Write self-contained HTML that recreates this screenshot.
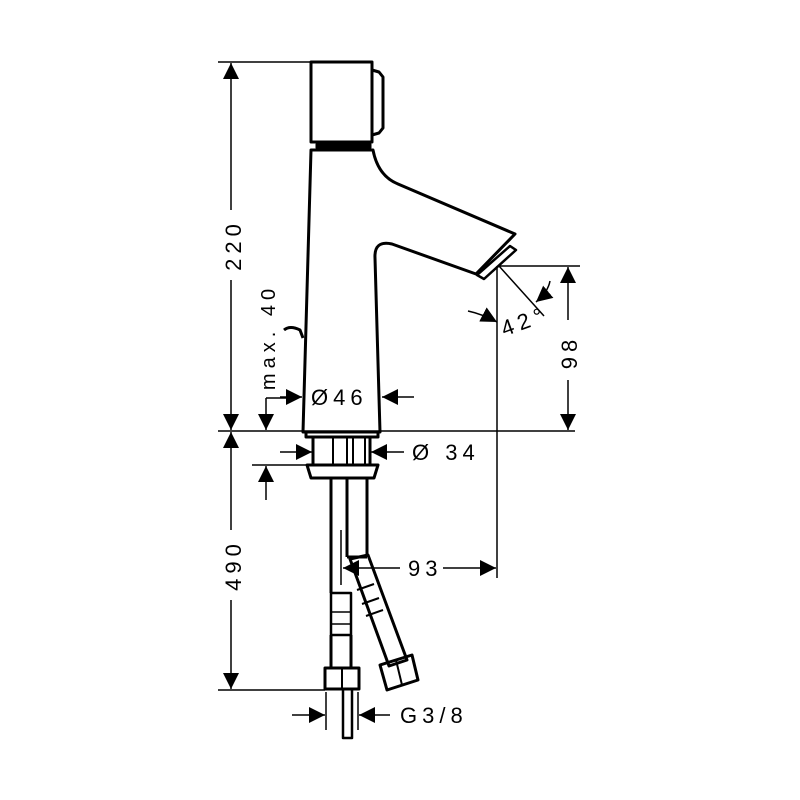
<!DOCTYPE html>
<html><head><style>
html,body{margin:0;padding:0;background:#fff;}
svg{display:block}
text{font-family:"Liberation Sans",sans-serif;font-size:22px;fill:#000;letter-spacing:5px}
</style></head><body>
<svg width="800" height="800" viewBox="0 0 800 800" xmlns="http://www.w3.org/2000/svg">
<defs>
<marker id="a" viewBox="0 0 10 10" refX="10" refY="5" markerWidth="16" markerHeight="16" markerUnits="userSpaceOnUse" orient="auto"><path d="M0,0 L10,5 L0,10 z" fill="#000"/></marker>
</defs>
<g fill="none" stroke="#000" stroke-width="3" stroke-linejoin="round">
<rect x="311" y="62" width="61" height="80"/>
<path d="M372,70 L379,72 L383,77 L383,128 L379,133 L372,135"/>
<rect x="316" y="144" width="55" height="4" fill="#000" stroke-width="1"/>
<path d="M311,150 L303,432 L380,432 L375,258 Q374,240 392,244 L476,274 L515,234 L398,184 Q378,176 373,150 Z"/>
<path d="M477,275 L510,246 L516,250 L484,279 Z" stroke-width="2.5"/>
<path d="M306,432 L306,437 L378,437 L378,432"/>
<path d="M284,330 Q290,325 300,330 L303,338" stroke-width="3"/>
<rect x="313" y="437" width="57" height="28"/>
<path d="M333,437 V465 M347,437 V465 M353,437 V465 M365,437 V465" stroke-width="2"/>
<path d="M307,465 L378,465 L374,478 L311,478 Z" stroke-width="3"/>
<path d="M331,478 V593 M347,478 V557 M367,478 V557 M347,557 H367"/>
<rect x="331" y="593" width="20" height="42" stroke-width="2.5"/>
<path d="M331,612 H351 M331,624 H351" stroke-width="1.5"/>
<path d="M331,635 V668 M351,635 V668"/>
<rect x="325" y="668" width="34" height="21"/>
<path d="M342,668 V689" stroke-width="2"/>
<path d="M343,689 V738 H352 V689" stroke-width="2.5"/>
<path d="M350,559 L368,555 L407,660 L389,666 Z"/>
<path d="M357,590 L374,584 M362,604 L379,598 M366,616 L383,610" stroke-width="2"/>
<path d="M380,665 L412,655 L418,680 L387,690 Z"/>
<path d="M396,660 L402,685" stroke-width="2"/>
</g>
<g stroke="#000" stroke-width="1.5" fill="none">
<line x1="218" y1="62" x2="311" y2="62"/>
<line x1="218" y1="431" x2="575" y2="431"/>
<line x1="218" y1="690" x2="325" y2="690"/>
<line x1="231" y1="210" x2="231" y2="63" marker-end="url(#a)"/>
<line x1="231" y1="280" x2="231" y2="430" marker-end="url(#a)"/>
<line x1="231" y1="530" x2="231" y2="432" marker-end="url(#a)"/>
<line x1="231" y1="600" x2="231" y2="689" marker-end="url(#a)"/>
<line x1="266" y1="398" x2="266" y2="430" marker-end="url(#a)"/>
<line x1="266" y1="398" x2="290" y2="398"/>
<line x1="252" y1="465" x2="310" y2="465"/>
<line x1="266" y1="500" x2="266" y2="466" marker-end="url(#a)"/>
<line x1="280" y1="397" x2="302" y2="397" marker-end="url(#a)"/>
<line x1="414" y1="397" x2="382" y2="397" marker-end="url(#a)"/>
<line x1="280" y1="452" x2="312" y2="452" marker-end="url(#a)"/>
<line x1="404" y1="452" x2="371" y2="452" marker-end="url(#a)"/>
<line x1="500" y1="266" x2="580" y2="266"/>
<line x1="497" y1="266" x2="497" y2="578"/>
<line x1="568" y1="320" x2="568" y2="267" marker-end="url(#a)"/>
<line x1="568" y1="380" x2="568" y2="430" marker-end="url(#a)"/>
<line x1="499" y1="266" x2="544" y2="316"/>
<path d="M550,281 Q548,292 536,302" marker-end="url(#a)"/>
<path d="M468,311 Q482,314 497,322" marker-end="url(#a)"/>
<line x1="341" y1="530" x2="341" y2="585"/>
<line x1="400" y1="568" x2="343" y2="568" marker-end="url(#a)"/>
<line x1="443" y1="568" x2="496" y2="568" marker-end="url(#a)"/>
<line x1="326" y1="692" x2="326" y2="730"/>
<line x1="358" y1="692" x2="358" y2="730"/>
<line x1="292" y1="715" x2="325" y2="715" marker-end="url(#a)"/>
<line x1="390" y1="715" x2="359" y2="715" marker-end="url(#a)"/>
</g>
<text transform="translate(241,245) rotate(-90)" text-anchor="middle">220</text>
<text transform="translate(241,565) rotate(-90)" text-anchor="middle">490</text>
<text transform="translate(275,337) rotate(-90)" text-anchor="middle" style="font-size:20px">max. 40</text>
<text transform="translate(577,352) rotate(-90)" text-anchor="middle">98</text>
<text x="311" y="405">Ø46</text>
<text x="412" y="460">Ø 34</text>
<text x="408" y="576">93</text>
<text x="400" y="723">G3/8</text>
<text x="500" y="332" transform="rotate(-20 515 322)">42°</text>
</svg>
</body></html>
